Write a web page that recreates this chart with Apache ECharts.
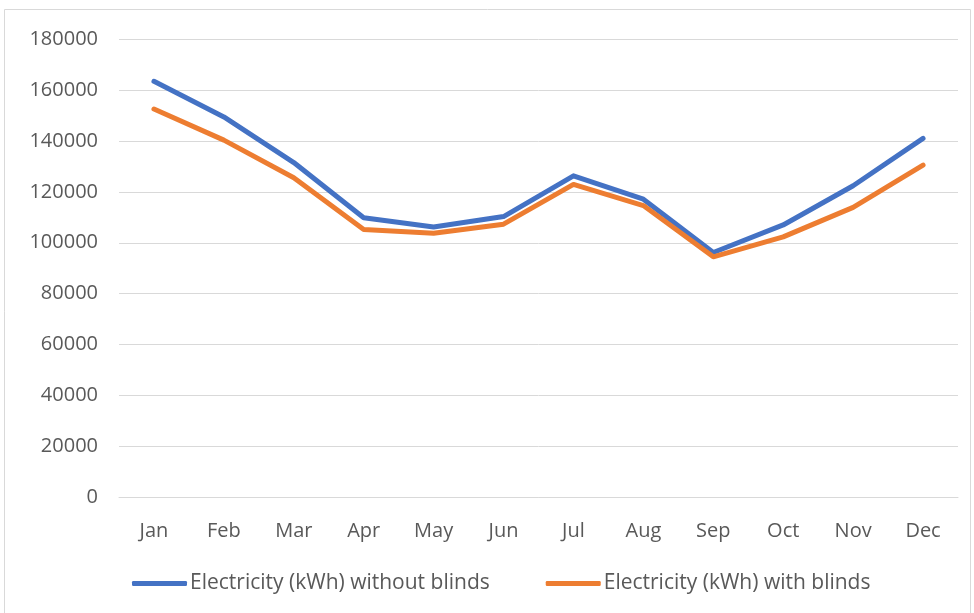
<!DOCTYPE html>
<html lang="en">
<head>
    <meta charset="UTF-8">
    <title>Electricity with and without blinds</title>
    <script src="https://cdn.jsdelivr.net/npm/echarts@6/dist/echarts.min.js"></script>
    <style>
        html, body { margin: 0; padding: 0; background: #fff; }
        #chart { width: 974px; height: 613px; }
    </style>
</head>
<body>
<div id="chart"></div>
<script>
    // data
    const months = ['Jan', 'Feb', 'Mar', 'Apr', 'May', 'Jun', 'Jul', 'Aug', 'Sep', 'Oct', 'Nov', 'Dec'];
    const withoutBlinds = [163400, 149400, 131500, 109800, 106200, 110300, 126300, 117100, 96200, 107000, 122400, 141000];
    const withBlinds = [152500, 140300, 125500, 105200, 103700, 107300, 122900, 114600, 94500, 102300, 113900, 130500];
    const seriesNames = ['Electricity (kWh) without blinds', 'Electricity (kWh) with blinds'];

    const font = '"Open Sans", "Noto Sans", sans-serif';
    const chart = echarts.init(document.getElementById('chart'));

    chart.setOption({
        animation: false,
        textStyle: {fontFamily: font},
        graphic: [{
            type: 'rect',
            shape: {x: 4.5, y: 9.5, width: 966, height: 610},
            style: {fill: 'none', stroke: '#d9d9d9', lineWidth: 1}
        }],
        legend: {
            left: 127,
            top: 568,
            itemWidth: 55,
            itemHeight: 5,
            itemGap: 56,
            icon: 'roundRect',
            textStyle: {fontFamily: font, fontSize: 21, color: '#595959', padding: [0, 0, 0, -2]},
            data: seriesNames
        },
        grid: {left: 119, right: 16, top: 39, bottom: 115.5},
        xAxis: {
            type: 'category',
            data: months,
            boundaryGap: true,
            axisLine: {lineStyle: {color: '#d9d9d9', width: 1}},
            axisTick: {show: false},
            axisLabel: {margin: 24, fontSize: 20, color: '#595959', fontFamily: font}
        },
        yAxis: {
            type: 'value',
            min: 0,
            max: 180000,
            interval: 20000,
            axisLine: {show: false},
            axisTick: {show: false},
            axisLabel: {margin: 21, fontSize: 20, color: '#595959', fontFamily: font,
                formatter: v => String(v)},
            splitLine: {lineStyle: {color: '#d9d9d9', width: 1}}
        },
        series: [
            {
                name: seriesNames[0],
                type: 'line',
                data: withoutBlinds,
                showSymbol: false,
                color: '#4472c4',
                lineStyle: {width: 5, color: '#4472c4', cap: 'round', join: 'round'}
            },
            {
                name: seriesNames[1],
                type: 'line',
                data: withBlinds,
                showSymbol: false,
                color: '#ed7d31',
                lineStyle: {width: 5, color: '#ed7d31', cap: 'round', join: 'round'}
            }
        ]
    });
</script>
</body>
</html>
